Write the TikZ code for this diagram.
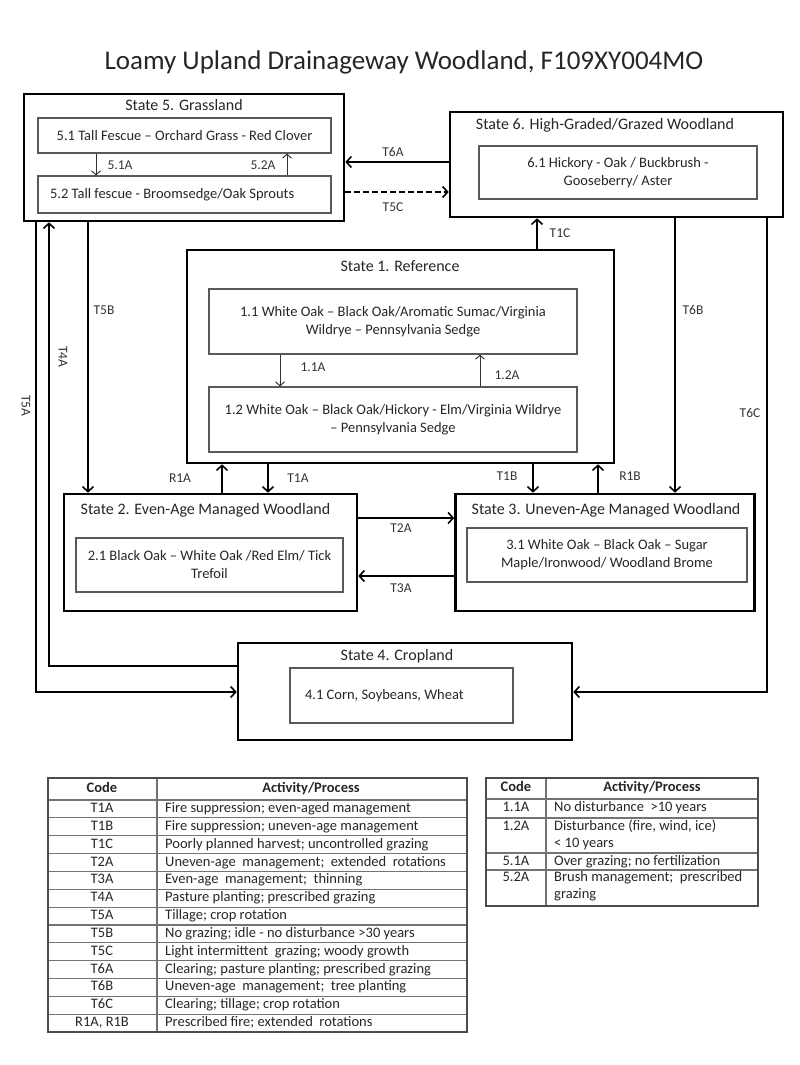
\documentclass[tikz,border=0pt]{standalone}
\usepackage{fontspec}
\setmainfont{Carlito}
\usetikzlibrary{arrows.meta}
\newcommand{\CodeL}[4]{\node[codetxt] (cL#1) at (102,#2) {#3}; \node[acttxt] (aL#1) at (165,#2) {#4};}
\newcommand{\CodeR}[4]{\node[codetxt] (cR#1) at (516,#2) {#3}; \node[acttxt] (aR#1) at (554,#2) {#4};}
\newcommand{\CodeRR}[4]{\node[codetxt] (cR#1) at (516,#2) {#3}; \node[acttwo] (aR#1) at (554,{#2+20.5}) {#4};}

\begin{document}
\begin{tikzpicture}[x=1pt, y=-1pt, text=black!85,
  state/.style = {draw, line width=2.6pt, inner sep=0pt},
  sub/.style = {draw=black!65, line width=1.1pt, inner sep=0pt, align=center, font=\fontsize{14.5}{18}\selectfont},
  hdr/.style = {font=\fontsize{16}{18}\selectfont},
  tr/.style = {line width=1.8pt, -{Straight Barb[length=5pt,width=11pt,line width=1.6pt]}},
  sm/.style = {line width=1pt, draw=black!80, -{Straight Barb[length=4pt,width=9pt,line width=1pt]}},
  lab/.style = {font=\fontsize{13.5}{15}\selectfont, text=black!80},
  codetxt/.style = {font=\fontsize{14.5}{17}\selectfont, inner sep=0pt, text height=10pt, text depth=3pt},
  acttxt/.style = {codetxt, anchor=west, align=flush left},
  acttwo/.style = {font=\fontsize{14.5}{17}\selectfont, inner sep=0pt, anchor=base west, align=flush left},
  tabout/.style = {draw=black!70, line width=1.8pt},
  tabin/.style = {draw=black!55, line width=1.1pt}]

\useasboundingbox (0,0) rectangle (800,1065);

\node[font=\fontsize{27}{30}\selectfont] (title) at (404,62) {Loamy Upland Drainageway Woodland, F109XY004MO};

% states
\node[state, minimum width=320pt, minimum height=127pt] (s5) at (184,157.5) {};
\node[hdr] (t5) at (184,105) {State 5. Grassland};
\node[sub, minimum width=293pt, minimum height=35pt] (s51) at (184.5,135.5) {5.1 Tall Fescue – Orchard Grass - Red Clover};
\node[sub, minimum width=293pt, minimum height=37pt, text width=269pt, align=flush left] (s52) at (184.5,194.5) {5.2 Tall fescue - Broomsedge/Oak Sprouts};

\node[state, minimum width=333pt, minimum height=105pt] (s6) at (616.5,164.5) {};
\node[hdr] (t6) at (605,125) {State 6. High-Graded/Grazed Woodland};
\node[sub, minimum width=278pt, minimum height=53pt] (s61) at (618,172.5) {6.1 Hickory - Oak / Buckbrush -\\Gooseberry/ Aster};

\node[state, minimum width=427pt, minimum height=213pt] (s1) at (400.5,356.5) {};
\node[hdr] (t1) at (400,266) {State 1. Reference};
\node[sub, minimum width=368pt, minimum height=65pt] (s11) at (393,321.5) {1.1 White Oak – Black Oak/Aromatic Sumac/Virginia\\Wildrye – Pennsylvania Sedge};
\node[sub, minimum width=368pt, minimum height=65pt] (s12) at (393,419.5) {1.2 White Oak – Black Oak/Hickory - Elm/Virginia Wildrye\\– Pennsylvania Sedge};

\node[state, minimum width=293pt, minimum height=117pt] (s2) at (210.5,552.5) {};
\node[hdr] (t2) at (205.5,510) {State 2. Even-Age Managed Woodland};
\node[sub, minimum width=267pt, minimum height=54pt] (s21) at (209.5,565) {2.1 Black Oak – White Oak /Red Elm/ Tick\\Trefoil};

\node[state, minimum width=299pt, minimum height=117pt] (s3) at (605,552.5) {};
\node[hdr] (t3) at (606,510) {State 3. Uneven-Age Managed Woodland};
\node[sub, minimum width=280pt, minimum height=54pt] (s31) at (607,555) {3.1 White Oak – Black Oak – Sugar\\Maple/Ironwood/ Woodland Brome};

\node[state, minimum width=334pt, minimum height=97pt] (s4) at (405,691.5) {};
\node[hdr] (t4) at (397,656) {State 4. Cropland};
\node[sub, minimum width=223pt, minimum height=55pt, text width=193pt, align=flush left] (s41) at (401.5,695.5) {4.1 Corn, Soybeans, Wheat};

% where the transitions run
\coordinate (xT5A) at (36,0);
\coordinate (xT4A) at (49,0);
\coordinate (xT5B) at (88,0);
\coordinate (xR1A) at (222,0);
\coordinate (xT1A) at (268,0);
\coordinate (xT1B) at (533,0);
\coordinate (xT1C) at (537,0);
\coordinate (xR1B) at (598,0);
\coordinate (xT6B) at (675,0);
\coordinate (xT6C) at (767,0);
\coordinate (yT6A) at (0,162);
\coordinate (yT5C) at (0,192);
\coordinate (yT2A) at (0,518);
\coordinate (yT3A) at (0,576);
\coordinate (yT4A) at (0,666);
\coordinate (yT5A) at (0,692);
\coordinate (x51A) at (96,0);
\coordinate (x52A) at (287,0);
\coordinate (x11A) at (280,0);
\coordinate (x12A) at (480,0);

\draw[tr] (s6.west |- yT6A) -- (s5.east |- yT6A);
\draw[tr, dash pattern=on 6pt off 3pt] (s5.east |- yT5C) -- (s6.west |- yT5C);
\draw[tr] (xT1C |- s1.north) -- (xT1C |- s6.south);
\draw[tr] (xT5B |- s5.south) -- (xT5B |- s2.north);
\draw[tr] (s4.west |- yT4A) -| (xT4A |- s5.south);
\draw[tr] (xT5A |- s5.south) |- (s4.west |- yT5A);
\draw[tr] (xT6B |- s6.south) -- (xT6B |- s3.north);
\draw[tr] (xT6C |- s6.south) |- (s4.east |- yT5A);
\draw[tr] (xR1A |- s2.north) -- (xR1A |- s1.south);
\draw[tr] (xT1A |- s1.south) -- (xT1A |- s2.north);
\draw[tr] (xT1B |- s1.south) -- (xT1B |- s3.north);
\draw[tr] (xR1B |- s3.north) -- (xR1B |- s1.south);
\draw[tr] (s2.east |- yT2A) -- (s3.west |- yT2A);
\draw[tr] (s3.west |- yT3A) -- (s2.east |- yT3A);

\draw[sm] (x51A |- s51.south) -- (x51A |- s52.north);
\draw[sm] (x52A |- s52.north) -- (x52A |- s51.south);
\draw[sm] (x11A |- s11.south) -- (x11A |- s12.north);
\draw[sm] (x12A |- s12.north) -- (x12A |- s11.south);

\node[lab] (lT6A) at (393,152) {T6A};
\node[lab] (lT5C) at (393,207) {T5C};
\node[lab] (lT1C) at (560,233) {T1C};
\node[lab] (lT5B) at (104,310) {T5B};
\node[lab, rotate=-90] (lT4A) at (63,357) {T4A};
\node[lab, rotate=-90] (lT5A) at (26,406) {T5A};
\node[lab] (lT6B) at (693,310) {T6B};
\node[lab] (lT6C) at (750,413) {T6C};
\node[lab] (lR1A) at (180,478) {R1A};
\node[lab] (lT1A) at (298,478) {T1A};
\node[lab] (lT1B) at (507,476) {T1B};
\node[lab] (lR1B) at (630,476) {R1B};
\node[lab] (lT2A) at (401,528) {T2A};
\node[lab] (lT3A) at (401,588) {T3A};
\node[lab] (l51A) at (120,165) {5.1A};
\node[lab] (l52A) at (263,165) {5.2A};
\node[lab] (l11A) at (313,367) {1.1A};
\node[lab] (l12A) at (507,375) {1.2A};

% transition table
\draw[tabin] (48,800) -- (467,800);
\draw[tabin] (48,817.85) -- (467,817.85);
\draw[tabin] (48,835.7) -- (467,835.7);
\draw[tabin] (48,853.55) -- (467,853.55);
\draw[tabin] (48,871.4) -- (467,871.4);
\draw[tabin] (48,889.25) -- (467,889.25);
\draw[tabin] (48,907.1) -- (467,907.1);
\draw[tabin] (48,924.95) -- (467,924.95);
\draw[tabin] (48,942.8) -- (467,942.8);
\draw[tabin] (48,960.65) -- (467,960.65);
\draw[tabin] (48,978.5) -- (467,978.5);
\draw[tabin] (48,996.35) -- (467,996.35);
\draw[tabin] (48,1014.2) -- (467,1014.2);
\draw[tabin] (157,778) -- (157,1032);
\draw[tabout] (48,778) rectangle (467,1032);

\node[codetxt, font=\fontsize{14.5}{17}\selectfont\bfseries] (hL1) at (102,789) {Code};
\node[codetxt, font=\fontsize{14.5}{17}\selectfont\bfseries] (hL2) at (311,789) {Activity/Process};
\CodeL{1}{808.9}{T1A}{Fire suppression; even-aged management}
\CodeL{2}{826.8}{T1B}{Fire suppression; uneven-age management}
\CodeL{3}{844.6}{T1C}{Poorly planned harvest; uncontrolled grazing}
\CodeL{4}{862.5}{T2A}{Uneven-age\ \ management;\ \ extended\ \ rotations}
\CodeL{5}{880.3}{T3A}{Even-age\ \ management;\ \ thinning}
\CodeL{6}{898.2}{T4A}{Pasture planting; prescribed grazing}
\CodeL{7}{916.0}{T5A}{Tillage; crop rotation}
\CodeL{8}{933.9}{T5B}{No grazing; idle - no disturbance >30 years}
\CodeL{9}{951.7}{T5C}{Light intermittent\ \ grazing; woody growth}
\CodeL{10}{969.6}{T6A}{Clearing; pasture planting; prescribed grazing}
\CodeL{11}{987.4}{T6B}{Uneven-age\ \ management;\ \ tree planting}
\CodeL{12}{1005.3}{T6C}{Clearing; tillage; crop rotation}
\CodeL{13}{1023.1}{R1A, R1B}{Prescribed fire; extended\ \ rotations}

% community phase table
\draw[tabin] (486,799) -- (758,799);
\draw[tabin] (486,818) -- (758,818);
\draw[tabin] (486,853) -- (758,853);
\draw[tabin] (486,870) -- (758,870);
\draw[tabin] (546,778) -- (546,906);
\draw[tabout] (486,778) rectangle (758,906);

\node[codetxt, font=\fontsize{14.5}{17}\selectfont\bfseries] (hR1) at (516,788) {Code};
\node[codetxt, font=\fontsize{14.5}{17}\selectfont\bfseries] (hR2) at (652,788) {Activity/Process};
\CodeR{1}{808}{1.1A}{No disturbance\ \ >10 years}
\CodeRR{2}{827}{1.2A}{Disturbance (fire, wind, ice)\\< 10 years}
\CodeR{3}{862}{5.1A}{Over grazing; no fertilization}
\CodeRR{4}{878}{5.2A}{Brush management;\ \ prescribed\\grazing}

\end{tikzpicture}
\end{document}
